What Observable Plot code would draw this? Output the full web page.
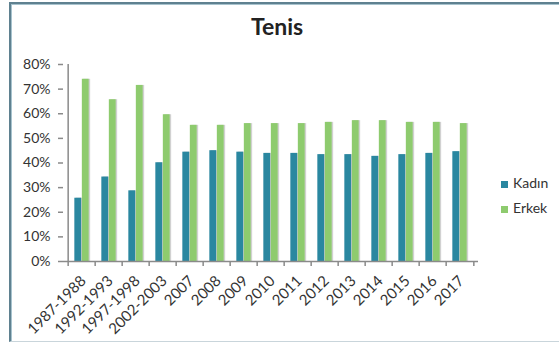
<!DOCTYPE html>
<html><head><meta charset="utf-8">
<script src="https://cdn.jsdelivr.net/npm/d3@7"></script>
<script src="https://cdn.jsdelivr.net/npm/@observablehq/plot@0.6"></script>
<style>
body{margin:0;background:#fff;font-family:Lato,"Open Sans",sans-serif;}
#wrap{position:relative;width:559px;height:343px;overflow:hidden;background:#fff;}
#frame{position:absolute;left:9px;top:2px;width:600px;height:337px;border-left:2px solid #5f8190;border-top:2px solid #5f8190;border-bottom:1px solid #c9d5db;box-shadow:inset 1px 1px 0 #a7c3ce;}
#chart{position:absolute;left:0;top:0;}
#title{position:absolute;left:0;width:554px;top:15px;line-height:1;text-align:center;font-weight:bold;font-size:23px;color:#222;}
.leg{position:absolute;left:501px;font-size:14px;line-height:14px;color:#333;}
.leg span{display:inline-block;width:7px;height:7px;margin-right:5px;vertical-align:0px;}
</style></head>
<body>
<div id="wrap">
<div id="frame"></div>
<div id="chart"></div>
<div id="title">Tenis</div>
<div class="leg" id="leg0" style="top:176px"></div>
<div class="leg" id="leg1" style="top:201px"></div>
</div>
<script>
const categories = ["1987-1988","1992-1993","1997-1998","2002-2003","2007","2008","2009","2010","2011","2012","2013","2014","2015","2016","2017"];
const seriesNames = ["Kadın","Erkek"];
const seriesColors = ["#2a87a0","#8ecb6e"];
const kadin = [0.257,0.343,0.287,0.401,0.444,0.450,0.444,0.439,0.439,0.434,0.434,0.427,0.434,0.439,0.446];
const erkek = [0.740,0.657,0.715,0.596,0.553,0.553,0.560,0.560,0.560,0.565,0.572,0.572,0.565,0.565,0.560];
const yTicks = [0,0.1,0.2,0.3,0.4,0.5,0.6,0.7,0.8];

const W = 559, H = 343, mL = 63, mR = 81, mT = 64, mB = 82;
const bw = (W - mL - mR) / categories.length;
const barW = 7.5;
const dataK = categories.map((c,i)=>({cat:c, v:kadin[i]}));
const dataE = categories.map((c,i)=>({cat:c, v:erkek[i]}));
const half = bw/2;

const chart = Plot.plot({
  width: W, height: H,
  marginLeft: mL, marginRight: mR, marginTop: mT, marginBottom: mB,
  style: {fontFamily: "Lato, sans-serif", color: "#333", background: "transparent"},
  x: {type: "band", domain: categories, padding: 0, axis: null, label: null},
  y: {domain: [0, 0.8], axis: null, label: null},
  marks: [
    Plot.barY(dataK, {x: "cat", y: "v", insetLeft: half - barW, insetRight: half, dx: 1.5, fill: "#000", fillOpacity: 0.18}),
    Plot.barY(dataE, {x: "cat", y: "v", insetLeft: half, insetRight: half - barW, dx: 1.5, fill: "#000", fillOpacity: 0.18}),
    Plot.barY(dataK, {x: "cat", y: "v", insetLeft: half - barW, insetRight: half, fill: seriesColors[0]}),
    Plot.barY(dataE, {x: "cat", y: "v", insetLeft: half, insetRight: half - barW, fill: seriesColors[1]}),
    Plot.axisY({ticks: yTicks, tickFormat: d3.format(".0%"), tickSize: 5, tickPadding: 8, fontSize: 14, stroke: "#8a8a8a", strokeWidth: 1.5, fill: "#333", label: null}),
    Plot.ruleY([0], {stroke: "#8a8a8a", strokeWidth: 1.5}),
    Plot.ruleX([categories[0]], {y1: 0, y2: 0.8, dx: -half, stroke: "#8a8a8a", strokeWidth: 1.5}),
    Plot.axisX({tickSize: 5, tickFormat: () => "", dx: -half, stroke: "#8a8a8a", strokeWidth: 1.5, label: null}),
    Plot.axisX({ticks: [categories[categories.length-1]], tickSize: 5, tickFormat: () => "", dx: half, stroke: "#8a8a8a", strokeWidth: 1.5, label: null}),
    Plot.axisX({tickSize: 0, tickRotate: -45, tickPadding: 17, fontSize: 15, fill: "#333", dx: 1.5, label: null, ariaLabel: "xlabels"})
  ]
});
d3.select(chart).selectAll('g[aria-label="xlabels"] text').style("letter-spacing", "1px");
document.getElementById("chart").appendChild(chart);
seriesNames.forEach((n,i)=>{
  const el = document.getElementById("leg"+i);
  el.innerHTML = `<span style="background:${seriesColors[i]}"></span>${n}`;
});
</script>
</body></html>
